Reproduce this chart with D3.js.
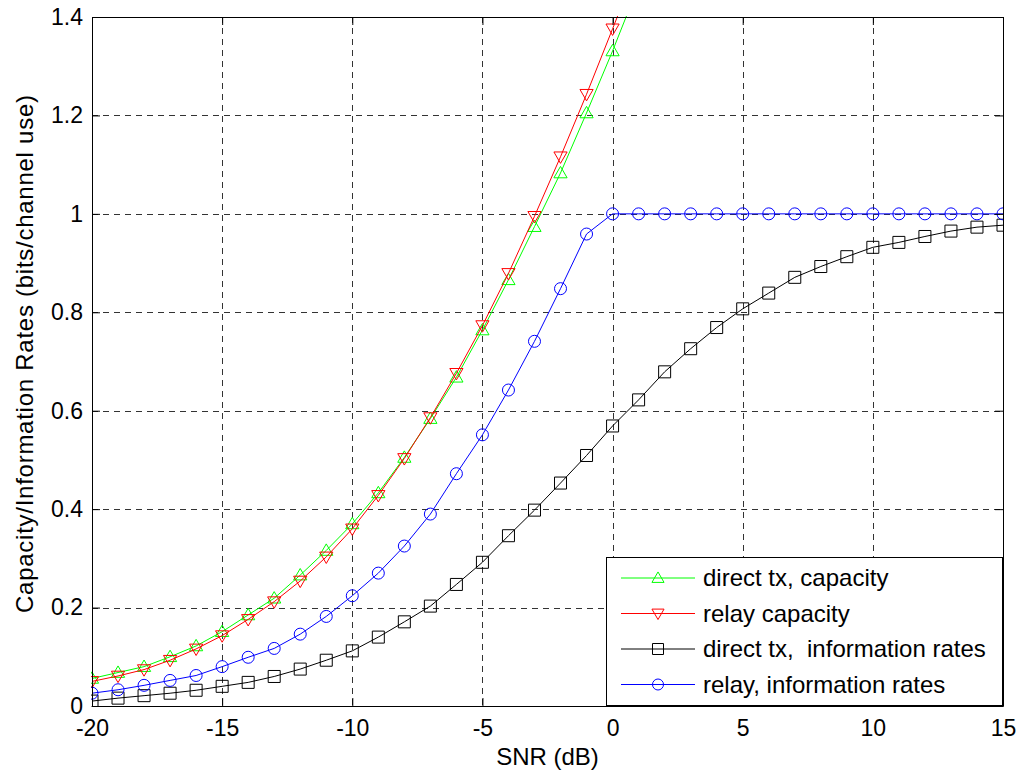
<!doctype html>
<html>
  <head>
    <meta charset="utf-8">
    <title>Capacity / information rates vs SNR</title>
    <script src="https://cdnjs.cloudflare.com/ajax/libs/d3/7.8.5/d3.min.js"></script>
    <style>
      body { margin: 0; background: #fff; }
      text { font-family: Arial, "Liberation Sans", sans-serif; fill: #000; }
      .legend text { white-space: pre; }
    </style>
  </head>
  <body>
    <div id="chart"></div>
    <script>
      // data, SNR in dB
      const snr = d3.range(-20, 16);
      const directCap = [0.056, 0.068, 0.080, 0.100, 0.122, 0.151, 0.185, 0.219, 0.266, 0.316, 0.370, 0.433, 0.505, 0.584, 0.668, 0.764, 0.866, 0.974, 1.083, 1.205, 1.331, 1.464];
      const relayCap = [0.050, 0.061, 0.074, 0.093, 0.116, 0.143, 0.176, 0.212, 0.254, 0.303, 0.360, 0.428, 0.503, 0.586, 0.676, 0.773, 0.879, 0.995, 1.116, 1.243, 1.376, 1.51];
      const directInfo = [0.010, 0.016, 0.021, 0.026, 0.032, 0.040, 0.048, 0.060, 0.075, 0.093, 0.112, 0.140, 0.171, 0.203, 0.247, 0.292, 0.346, 0.398, 0.453, 0.509, 0.569, 0.622, 0.679, 0.726, 0.769, 0.807, 0.839, 0.871, 0.893, 0.913, 0.932, 0.942, 0.954, 0.965, 0.973, 0.977];
      const relayInfo = [0.026, 0.033, 0.042, 0.052, 0.062, 0.080, 0.099, 0.117, 0.146, 0.182, 0.224, 0.270, 0.325, 0.390, 0.472, 0.551, 0.642, 0.741, 0.848, 0.959, 1, 1, 1, 1, 1, 1, 1, 1, 1, 1, 1, 1, 1, 1, 1, 1];
      const xTicks = [-20, -15, -10, -5, 0, 5, 10, 15];
      const yTicks = [0, 0.2, 0.4, 0.6, 0.8, 1, 1.2, 1.4];

      const series = [
        { name: 'direct tx, capacity', values: directCap, color: '#00ff00', marker: 'up' },
        { name: 'relay capacity', values: relayCap, color: '#ff0000', marker: 'down' },
        { name: 'direct tx,  information rates', values: directInfo, color: '#000000', marker: 'square' },
        { name: 'relay, information rates', values: relayInfo, color: '#0000ff', marker: 'circle' }
      ];

      const width = 1023, height = 775;
      const margin = { top: 17, right: 20, bottom: 69, left: 92 };
      const w = width - margin.left - margin.right;
      const h = height - margin.top - margin.bottom;

      const x = d3.scaleLinear().domain([-20, 15]).range([0, w]);
      const y = d3.scaleLinear().domain([0, 1.4]).range([h, 0]);

      const svg = d3.select('#chart').append('svg')
        .attr('width', width)
        .attr('height', height);

      svg.append('defs').append('clipPath').attr('id', 'plotclip')
        .append('rect').attr('x', -1).attr('y', -1).attr('width', w + 2).attr('height', h + 2);

      const g = svg.append('g').attr('transform', `translate(${margin.left},${margin.top})`);

      // dashed grid
      g.append('g').selectAll('line')
        .data(xTicks.slice(1, -1))
        .join('line')
        .attr('x1', d => Math.round(x(d)) + 0.5).attr('x2', d => Math.round(x(d)) + 0.5)
        .attr('y1', 0).attr('y2', h)
        .attr('stroke', '#333').attr('stroke-dasharray', '6,5');
      g.append('g').selectAll('line')
        .data(yTicks.slice(1, -1))
        .join('line')
        .attr('y1', d => Math.round(y(d)) + 0.5).attr('y2', d => Math.round(y(d)) + 0.5)
        .attr('x1', 0).attr('x2', w)
        .attr('stroke', '#333').attr('stroke-dasharray', '6,5');

      // marker shapes
      function markerPath(type, s) {
        if (type === 'up') return `M0,${-s * 0.55}L${s * 0.55},${s * 0.4}L${-s * 0.55},${s * 0.4}Z`;
        if (type === 'down') return `M0,${s * 0.55}L${s * 0.55},${-s * 0.4}L${-s * 0.55},${-s * 0.4}Z`;
        if (type === 'square') return `M${-s / 2},${-s / 2}h${s}v${s}h${-s}Z`;
        return d3.symbol(d3.symbolCircle, Math.PI * (s / 2) * (s / 2))();
      }

      const plot = g.append('g').attr('clip-path', 'url(#plotclip)');
      const line = d3.line().x((d, i) => x(snr[i])).y(d => y(d));

      series.forEach(s => {
        plot.append('path')
          .datum(s.values)
          .attr('d', line)
          .attr('fill', 'none')
          .attr('stroke', s.color)
          .attr('stroke-width', 1);
        plot.append('g').selectAll('path')
          .data(s.values)
          .join('path')
          .attr('transform', (d, i) => `translate(${x(snr[i])},${y(d)})`)
          .attr('d', markerPath(s.marker, 12))
          .attr('fill', 'none')
          .attr('stroke', s.color)
          .attr('stroke-width', 1);
      });

      // axes: box with inward ticks
      const xAxisB = d3.axisBottom(x).tickValues(xTicks).tickSizeInner(-8).tickSizeOuter(0).tickPadding(14).tickFormat(d => String(d));
      const xAxisT = d3.axisTop(x).tickValues(xTicks).tickSizeInner(-8).tickSizeOuter(0).tickFormat('');
      const yAxisL = d3.axisLeft(y).tickValues(yTicks).tickSizeInner(-8).tickSizeOuter(0).tickPadding(9).tickFormat(d => String(d));
      const yAxisR = d3.axisRight(y).tickValues(yTicks).tickSizeInner(-8).tickSizeOuter(0).tickFormat('');

      function styleAxis(sel) {
        sel.select('.domain').attr('stroke', '#000');
        sel.selectAll('.tick line').attr('stroke', '#000');
        sel.selectAll('.tick text').style('font-size', '23px').attr('fill', '#000');
        sel.attr('font-family', null);
      }
      g.append('g').attr('transform', `translate(0,${h})`).call(xAxisB).call(styleAxis);
      g.append('g').call(xAxisT).call(styleAxis);
      g.append('g').call(yAxisL).call(styleAxis);
      g.append('g').attr('transform', `translate(${w},0)`).call(yAxisR).call(styleAxis);

      // axis labels
      svg.append('text')
        .attr('x', margin.left + w / 2)
        .attr('y', 765)
        .attr('text-anchor', 'middle')
        .style('font-size', '24px')
        .text('SNR (dB)');
      svg.append('text')
        .attr('transform', `translate(33,354) rotate(-90)`)
        .attr('text-anchor', 'middle')
        .style('font-size', '24px')
        .attr('textLength', 518)
        .text('Capacity/Information Rates (bits/channel use)');

      // legend
      const legend = svg.append('g').attr('class', 'legend');
      legend.append('rect')
        .attr('x', 606.5).attr('y', 557.5)
        .attr('width', 396).attr('height', 148)
        .attr('fill', '#fff').attr('stroke', '#000');
      series.forEach((s, i) => {
        const ly = 578 + i * 35.5;
        legend.append('line')
          .attr('x1', 621).attr('x2', 695).attr('y1', ly).attr('y2', ly)
          .attr('stroke', s.color);
        legend.append('path')
          .attr('transform', `translate(658,${ly})`)
          .attr('d', markerPath(s.marker, 11))
          .attr('fill', 'none').attr('stroke', s.color);
        legend.append('text')
          .attr('x', 703).attr('y', ly)
          .attr('dy', '0.35em')
          .style('font-size', '24px')
          .text(s.name);
      });
    </script>
  </body>
</html>
